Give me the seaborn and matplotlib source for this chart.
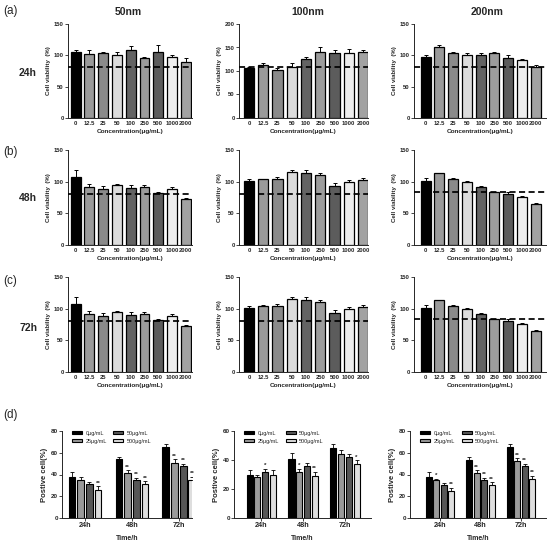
import matplotlib
matplotlib.use("Agg")
import matplotlib.pyplot as plt
import seaborn as sns
import numpy as np
import pandas as pd

sns.set_style("ticks")
plt.rcParams['font.family'] = ['Liberation Sans', 'DejaVu Sans']

# ---------------- data: cell viability ----------------
conc = ["0", "12.5", "25", "50", "100", "250", "500", "1000", "2000"]
conc_colors = ["#000000", "#9a9a9a", "#8a8a8a", "#dcdcdc", "#636363",
               "#9c9c9c", "#5c5c5c", "#eeeeee", "#a2a2a2"]

v50_24 = [105, 102, 104, 101, 109, 96, 106, 97, 89]
e50_24 = [3, 7, 2, 4, 6, 2, 11, 3, 6]
v100_24 = [107, 113, 102, 108, 126, 141, 139, 139, 141]
e100_24 = [2, 5, 5, 8, 3, 9, 5, 7, 4]
v200_24 = [98, 113, 103, 100, 101, 103, 95, 93, 81]
e200_24 = [3, 4, 2, 3, 3, 2, 6, 1, 4]

v50_48 = [108, 91, 89, 95, 90, 92, 82, 89, 73]
e50_48 = [11, 6, 4, 1, 4, 2, 2, 3, 2]
v100_48 = [101, 104, 104, 115, 114, 110, 93, 100, 103]
e100_48 = [3, 1, 3, 4, 4, 4, 5, 3, 3]
v200_48 = [101, 113, 104, 100, 92, 83, 81, 76, 64]
e200_48 = [5, 1, 2, 1, 1, 1, 2, 2, 3]

v50_72 = [108, 91, 89, 95, 90, 92, 82, 89, 73]
e50_72 = [11, 6, 4, 1, 4, 2, 2, 3, 2]
v100_72 = [101, 104, 104, 115, 114, 110, 93, 100, 103]
e100_72 = [3, 1, 3, 4, 4, 4, 5, 3, 3]
v200_72 = [101, 113, 104, 100, 92, 83, 81, 76, 64]
e200_72 = [5, 1, 2, 1, 1, 1, 2, 2, 3]

thr_24 = [81, 108, 81]
thr_48 = [81, 81, 84]
thr_72 = [81, 81, 84]
ymax_24 = [150, 200, 150]

sizes = ["50nm", "100nm", "200nm"]
times_rows = ["24h", "48h", "72h"]

# ---------------- data: positive cells ----------------
d_times = ["24h", "48h", "72h"]
d_doses = ["0μg/mL", "25μg/mL", "50μg/mL", "500μg/mL"]
d_colors = ["#000000", "#9a9a9a", "#575757", "#dedede"]

p1_0 = [38, 54, 65];  p1_0e = [4, 2, 3]
p1_25 = [35, 41, 51]; p1_25e = [3, 3, 3]
p1_50 = [31, 35, 48]; p1_50e = [2, 2, 2]
p1_500 = [26, 31, 35]; p1_500e = [3, 3, 3]
s1 = [["", "", ""], ["", "**", "**"], ["", "**", "**"], ["**", "**", "**"]]

p2_0 = [30, 41, 48];  p2_0e = [3, 4, 3]
p2_25 = [28, 32, 44]; p2_25e = [2, 2, 3]
p2_50 = [32, 36, 42]; p2_50e = [2, 2, 2]
p2_500 = [30, 29, 37]; p2_500e = [3, 3, 3]
s2 = [["", "", ""], ["", "*", ""], ["*", "", ""], ["", "**", "*"]]

p3_0 = [38, 53, 65];  p3_0e = [4, 3, 3]
p3_25 = [35, 41, 52]; p3_25e = [1, 3, 3]
p3_50 = [30, 35, 48]; p3_50e = [2, 2, 2]
p3_500 = [25, 30, 36]; p3_500e = [3, 3, 3]
s3 = [["", "", ""], ["*", "**", "**"], ["", "**", "**"], ["**", "**", "**"]]

W, H = 550, 547
fig = plt.figure(figsize=(5.5, 5.47), dpi=100)


def fx(px):
    return px / W


def fy(py):
    return 1 - py / H


def viab(ax, vals, errs, ymax, thr, xlim):
    df = pd.DataFrame({"conc": conc, "val": vals})
    sns.barplot(data=df, x="conc", y="val", hue="conc", order=conc,
                palette=dict(zip(conc, conc_colors)), legend=False,
                edgecolor="black", linewidth=0.9, width=0.72, ax=ax)
    xs = np.arange(len(conc))
    ax.errorbar(xs, vals, yerr=[np.zeros(len(vals)), errs], fmt="none",
                ecolor="black", elinewidth=0.7, capsize=1.6, capthick=0.7,
                zorder=0.5)
    ax.axhline(thr, color="black", ls=(0, (3.5, 2)), lw=1.25, zorder=5)
    ax.set_ylim(0, ymax)
    ax.set_xlim(*xlim)
    ax.set_yticks(np.arange(0, ymax + 1, 50))
    ax.set_xlabel("Concentration(μg/mL)", fontsize=4.6, fontweight="bold", labelpad=1.5)
    ax.set_ylabel("Cell viability  (%)", fontsize=4.4, fontweight="bold", labelpad=2)
    ax.tick_params(axis="y", length=2, width=0.6, labelsize=4.2, pad=1)
    ax.tick_params(axis="x", length=0, labelsize=4.2, pad=2.5)
    for t in ax.get_xticklabels() + ax.get_yticklabels():
        t.set_fontweight("bold")
    sns.despine(ax=ax)
    for s in ["left", "bottom"]:
        ax.spines[s].set_linewidth(0.7)


rows_px = [(24, 118), (150, 245), (277, 372)]
cols_px = [(68, 192), (239, 368), (414, 546)]
xlims = [(-0.55, 8.45), (-0.7, 8.35), (-0.85, 8.75)]

row_vals = [[v50_24, v100_24, v200_24], [v50_48, v100_48, v200_48],
            [v50_72, v100_72, v200_72]]
row_errs = [[e50_24, e100_24, e200_24], [e50_48, e100_48, e200_48],
            [e50_72, e100_72, e200_72]]
row_thr = [thr_24, thr_48, thr_72]
row_ymax = [ymax_24, [150, 150, 150], [150, 150, 150]]

for r, (t, b) in enumerate(rows_px):
    for c, (l, rr) in enumerate(cols_px):
        ax = fig.add_axes([fx(l), fy(b), (rr - l) / W, (b - t) / H])
        viab(ax, row_vals[r][c], row_errs[r][c], row_ymax[r][c],
             row_thr[r][c], xlims[c])

# titles / row labels
for name, x in zip(sizes, [128, 308, 487]):
    fig.text(fx(x), fy(12), name, ha="center", va="center", fontsize=7.5,
             fontweight="bold", family=["Liberation Sans Narrow", "Liberation Sans"])
for lab, y in zip(["(a)", "(b)", "(c)", "(d)"], [11, 152, 281, 415]):
    fig.text(fx(3), fy(y), lab, ha="left", va="center", fontsize=8.5)
for lab, y in zip(times_rows, [73, 198, 328]):
    fig.text(fx(28), fy(y), lab, ha="center", va="center", fontsize=7.5,
             fontweight="bold", family=["Liberation Sans Narrow", "Liberation Sans"])


def positive(ax, series, errs, stars, ymax, xlim):
    rows = []
    for dose, vals in zip(d_doses, series):
        for tm, v in zip(d_times, vals):
            rows.append({"time": tm, "dose": dose, "val": v})
    df = pd.DataFrame(rows)
    sns.barplot(data=df, x="time", y="val", hue="dose", order=d_times,
                hue_order=d_doses, palette=dict(zip(d_doses, d_colors)),
                edgecolor="black", linewidth=0.8, width=0.74, gap=0.22, ax=ax)
    for cont, er, st in zip(ax.containers, errs, stars):
        xs = [p.get_x() + p.get_width() / 2 for p in cont.patches]
        hs = [p.get_height() for p in cont.patches]
        ax.errorbar(xs, hs, yerr=[np.zeros(len(hs)), er], fmt="none",
                    ecolor="black", elinewidth=0.6, capsize=1.3, capthick=0.6,
                    zorder=0.5)
        for x, h, e, s in zip(xs, hs, er, st):
            if s:
                ax.text(x, h + e + ymax * 0.005, s, ha="center", va="bottom",
                        fontsize=4.5, fontweight="bold")
    ax.set_ylim(0, ymax)
    ax.set_xlim(*xlim)
    ax.set_yticks(np.arange(0, ymax + 1, 20))
    ax.set_xlabel("Time/h", fontsize=5, fontweight="bold", labelpad=4)
    ax.set_ylabel("Postive cell(%)", fontsize=5.5, fontweight="bold", labelpad=2)
    ax.tick_params(axis="y", length=2, width=0.6, labelsize=4.5, pad=1)
    ax.tick_params(axis="x", length=2, width=0.6, labelsize=5.2, pad=1)
    for t in ax.get_xticklabels() + ax.get_yticklabels():
        t.set_fontweight("bold")
    ax.legend(ncol=2, fontsize=4, frameon=False, loc="upper left",
              bbox_to_anchor=(0.06, 1.03), handlelength=1.8,
              handleheight=0.6, columnspacing=1.2, labelspacing=0.55,
              handletextpad=0.6, borderaxespad=0)
    sns.despine(ax=ax)
    for s in ["left", "bottom"]:
        ax.spines[s].set_linewidth(0.7)


dcols = [(62, 192), (234, 371), (410, 546)]
dxl = [(-0.49, 2.28), (-0.65, 2.62), (-0.74, 2.62)]
d_series = [[p1_0, p1_25, p1_50, p1_500], [p2_0, p2_25, p2_50, p2_500],
            [p3_0, p3_25, p3_50, p3_500]]
d_errs = [[p1_0e, p1_25e, p1_50e, p1_500e], [p2_0e, p2_25e, p2_50e, p2_500e],
          [p3_0e, p3_25e, p3_50e, p3_500e]]
d_stars = [s1, s2, s3]
d_ymax = [80, 60, 80]
for i, (l, rr) in enumerate(dcols):
    ax = fig.add_axes([fx(l), fy(518), (rr - l) / W, (518 - 431) / H])
    positive(ax, d_series[i], d_errs[i], d_stars[i], d_ymax[i], dxl[i])

fig.savefig("out.png", dpi=100)
